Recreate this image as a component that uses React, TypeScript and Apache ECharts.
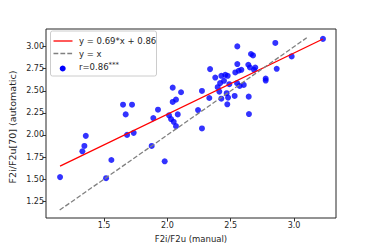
import React, { useEffect, useRef } from "react";
import * as echarts from "echarts";

const manual = [
  1.153, 1.329, 1.345, 1.356, 1.516, 1.558, 1.65, 1.671, 1.682, 1.721, 1.734,
  1.876, 1.889, 1.926, 1.979, 2.013, 2.029, 2.042, 2.042, 2.05, 2.068, 2.068,
  2.082, 2.108, 2.242, 2.273, 2.273, 2.331, 2.337, 2.378, 2.397, 2.41, 2.416,
  2.426, 2.426, 2.447, 2.457, 2.468, 2.476, 2.479, 2.473, 2.489, 2.531, 2.536,
  2.552, 2.552, 2.55, 2.563, 2.571, 2.584, 2.603, 2.639, 2.642, 2.644, 2.652,
  2.66, 2.676, 2.684, 2.694, 2.776, 2.776, 2.852, 2.863, 2.981, 3.228,
];
const automatic = [
  1.523, 1.815, 1.876, 1.99, 1.511, 1.717, 2.343, 2.233, 2.001, 2.343, 2.024,
  1.876, 2.191, 2.286, 1.702, 2.222, 2.18, 2.536, 2.374, 2.149, 2.4, 2.1,
  2.233, 2.484, 2.282, 2.499, 2.074, 2.419, 2.746, 2.65, 2.541, 2.491, 2.587,
  2.67, 2.411, 2.613, 2.681, 2.473, 2.67, 2.423, 2.347, 2.575, 2.442, 2.708,
  3.003, 2.803, 2.587, 2.727, 2.556, 2.738, 2.567, 2.795, 2.434, 2.237, 2.764,
  2.917, 2.901, 2.738, 2.764, 2.639, 2.616, 3.042, 2.749, 2.89, 3.088,
];
const fitLine = [
  [1.153, 1.648],
  [3.228, 3.087],
];
const identityLine = [
  [1.15, 1.15],
  [3.1, 3.1],
];
const xTicks = [1.5, 2.0, 2.5, 3.0];
const yTicks = [1.25, 1.5, 1.75, 2.0, 2.25, 2.5, 2.75, 3.0];
const legendLabels = ["y = 0.69*x + 0.86", "y = x", "r=0.86"];
const xTitle = "F2i/F2u (manual)";
const yTitle = "F2i/F2u[70] (automatic)";

const FONT = "DejaVu Sans";

export default function App() {
  const ref = useRef<HTMLDivElement>(null);
  useEffect(() => {
    if (!ref.current) return;
    const chart = echarts.init(ref.current, null, { renderer: "svg" });
    const points = manual.map((x, i) => [x, automatic[i]]);
    chart.setOption({
      animation: false,
      backgroundColor: "#ffffff",
      grid: {
        left: 46,
        right: 38,
        top: 29,
        bottom: 31,
        show: true,
        borderColor: "#262626",
        borderWidth: 1,
        backgroundColor: "#ffffff",
      },
      xAxis: {
        type: "value",
        min: 1.042,
        max: 3.331,
        splitLine: { show: false },
        axisLine: { show: false },
        axisTick: {
          show: true,
          length: 3.5,
          customValues: xTicks,
          lineStyle: { color: "#333" },
        },
        axisLabel: {
          customValues: xTicks,
          formatter: (v: number) => v.toFixed(1),
          fontFamily: FONT,
          fontSize: 8,
          color: "#262626",
          margin: 3,
        },
      },
      yAxis: {
        type: "value",
        min: 1.06,
        max: 3.2,
        splitLine: { show: false },
        axisLine: { show: false },
        axisTick: {
          show: true,
          length: 3.5,
          customValues: yTicks,
          lineStyle: { color: "#333" },
        },
        axisLabel: {
          customValues: yTicks,
          formatter: (v: number) => v.toFixed(2),
          fontFamily: FONT,
          fontSize: 8,
          color: "#262626",
          margin: 2,
        },
      },
      series: [
        {
          type: "scatter",
          data: points,
          symbolSize: 6,
          itemStyle: { color: "#0000ff" },
          z: 3,
        },
        {
          type: "line",
          data: fitLine,
          symbol: "none",
          lineStyle: { color: "#ff0000", width: 1.3 },
          z: 4,
        },
        {
          type: "line",
          data: identityLine,
          symbol: "none",
          lineStyle: { color: "#808080", width: 1.3, type: [4.8, 2.1] },
          z: 4,
        },
      ],
      graphic: [
        {
          type: "rect",
          shape: { x: 50.5, y: 31, width: 106, height: 45, r: 2 },
          style: { fill: "rgba(255,255,255,0.8)", stroke: "#cccccc", lineWidth: 1 },
          z: 10,
        },
        {
          type: "line",
          shape: { x1: 53.5, y1: 41, x2: 72.5, y2: 41 },
          style: { stroke: "#ff0000", lineWidth: 1.3 },
          z: 11,
        },
        {
          type: "line",
          shape: { x1: 53.5, y1: 53.5, x2: 72.5, y2: 53.5 },
          style: { stroke: "#808080", lineWidth: 1.3, lineDash: [4.8, 2.1] },
          z: 11,
        },
        {
          type: "circle",
          shape: { cx: 62.7, cy: 68.5, r: 3 },
          style: { fill: "#0000ff" },
          z: 11,
        },
        {
          type: "text",
          x: 79,
          y: 41,
          style: {
            text: legendLabels[0],
            fontFamily: FONT,
            fontSize: 8.5,
            fill: "#262626",
            verticalAlign: "middle",
          },
          z: 11,
        },
        {
          type: "text",
          x: 79,
          y: 53.5,
          style: {
            text: legendLabels[1],
            fontFamily: FONT,
            fontSize: 8.5,
            fill: "#262626",
            verticalAlign: "middle",
          },
          z: 11,
        },
        {
          type: "text",
          x: 79,
          y: 67,
          style: {
            text: legendLabels[2],
            fontFamily: FONT,
            fontSize: 8.5,
            fill: "#262626",
            verticalAlign: "middle",
          },
          z: 11,
        },
        {
          type: "text",
          x: 108.5,
          y: 64.5,
          style: {
            text: "***",
            fontFamily: FONT,
            fontSize: 7,
            fill: "#262626",
            verticalAlign: "middle",
          },
          z: 11,
        },
        {
          type: "text",
          x: 191,
          y: 239,
          style: {
            text: xTitle,
            fontFamily: FONT,
            fontSize: 8.5,
            fill: "#262626",
            align: "center",
            verticalAlign: "middle",
          },
        },
        {
          type: "text",
          x: 12.5,
          y: 127,
          rotation: Math.PI / 2,
          style: {
            text: yTitle,
            fontFamily: FONT,
            fontSize: 9.5,
            fill: "#262626",
            align: "center",
            verticalAlign: "middle",
          },
        },
      ],
    });
    return () => chart.dispose();
  }, []);
  return (
    <div
      ref={ref}
      style={{ position: "absolute", left: 0, top: 0, width: 374, height: 249 }}
    />
  );
}
